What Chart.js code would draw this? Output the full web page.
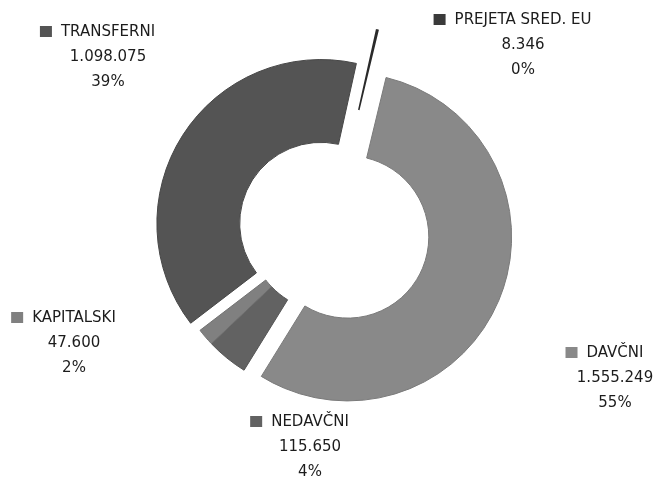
<!DOCTYPE html>
<html>
<head>
<meta charset="utf-8">
<script src="https://cdn.jsdelivr.net/npm/chart.js@4.4.0/dist/chart.umd.min.js"></script>
<style>
  html, body { margin: 0; padding: 0; background: #fff; }
  #wrap { width: 659px; height: 479px; position: relative; }
</style>
</head>
<body>
<div id="wrap"><canvas id="prihodki"></canvas></div>
<script>
// podatki
var kategorije = ['PREJETA SRED. EU', 'DAVČNI', 'NEDAVČNI', 'KAPITALSKI', 'TRANSFERNI'];
var vrednosti = [8346, 1555249, 115650, 47600, 1098075];
var barve = ['#2a2a2a', '#898989', '#626262', '#808080', '#545454'];
var robovi = ['#222222', '#7a7a7a', '#555555', '#727272', '#474747'];
var debeline = [0, 1, 1, 1, 1];
// za koliko px je kos izvlečen iz kolobarja
var odmiki = [42, 18, 1, 1, 12];

// kje stoji posamezna oznaka (sredina besedila, prva vrstica)
var oznakePoz = [[523, 20], [615, 353], [310, 422], [74, 318], [108, 32]];

function formatiraj(n) {
    return String(n).replace(/\B(?=(\d{3})+(?!\d))/g, '.');
}

var vsota = vrednosti.reduce(function (a, b) { return a + b; }, 0);

// premik kosov kot v excelu (brez povečanja polmera, ki ga naredi chart.js offset)
const izvlek = {
    id: 'izvlek',
    afterDatasetsUpdate(chart) {
        var meta = chart.getDatasetMeta(0);
        meta.data.forEach(function (arc, i) {
            var sred = (arc.startAngle + arc.endAngle) / 2;
            arc.x += Math.cos(sred) * odmiki[i];
            arc.y += Math.sin(sred) * odmiki[i];
        });
    }
};

const oznakePlugin = {
    id: 'oznake',
    afterDraw(chart) {
        var ctx = chart.ctx;
        ctx.save();
        ctx.font = '15px "DejaVu Sans", Verdana, sans-serif';
        ctx.textAlign = 'center';
        ctx.textBaseline = 'middle';
        for (var i = 0; i < kategorije.length; i++) {
            var x = oznakePoz[i][0];
            var y = oznakePoz[i][1];
            var w = ctx.measureText(kategorije[i]).width;
            ctx.fillStyle = i === 0 ? '#3a3a3a' : barve[i];
            ctx.fillRect(x - w / 2 - 21, y - 6, 12, 11);
            ctx.fillStyle = '#1c1c1c';
            ctx.fillText(kategorije[i], x, y);
            ctx.fillText(formatiraj(vrednosti[i]), x, y + 25);
            ctx.fillText(Math.round(vrednosti[i] / vsota * 100) + '%', x, y + 50);
        }
        ctx.restore();
    }
};

const podatki = {
    labels: kategorije,
    datasets: [{
        data: vrednosti,
        backgroundColor: barve,
        borderColor: robovi,
        borderWidth: debeline
    }]
};

const nastavitve = {
    type: 'doughnut',
    data: podatki,
    options: {
        responsive: false,
        animation: false,
        events: [],
        rotation: 12.5,
        cutout: '49.5%',
        radius: 164,
        layout: { padding: { left: 3, right: 0, top: 0, bottom: 19 } },
        plugins: {
            legend: { display: false },
            tooltip: { enabled: false }
        }
    },
    plugins: [izvlek, oznakePlugin]
};

var canvas = document.getElementById('prihodki');
canvas.width = 659;
canvas.height = 479;
const graf = new Chart(canvas, nastavitve);
</script>
</body>
</html>
